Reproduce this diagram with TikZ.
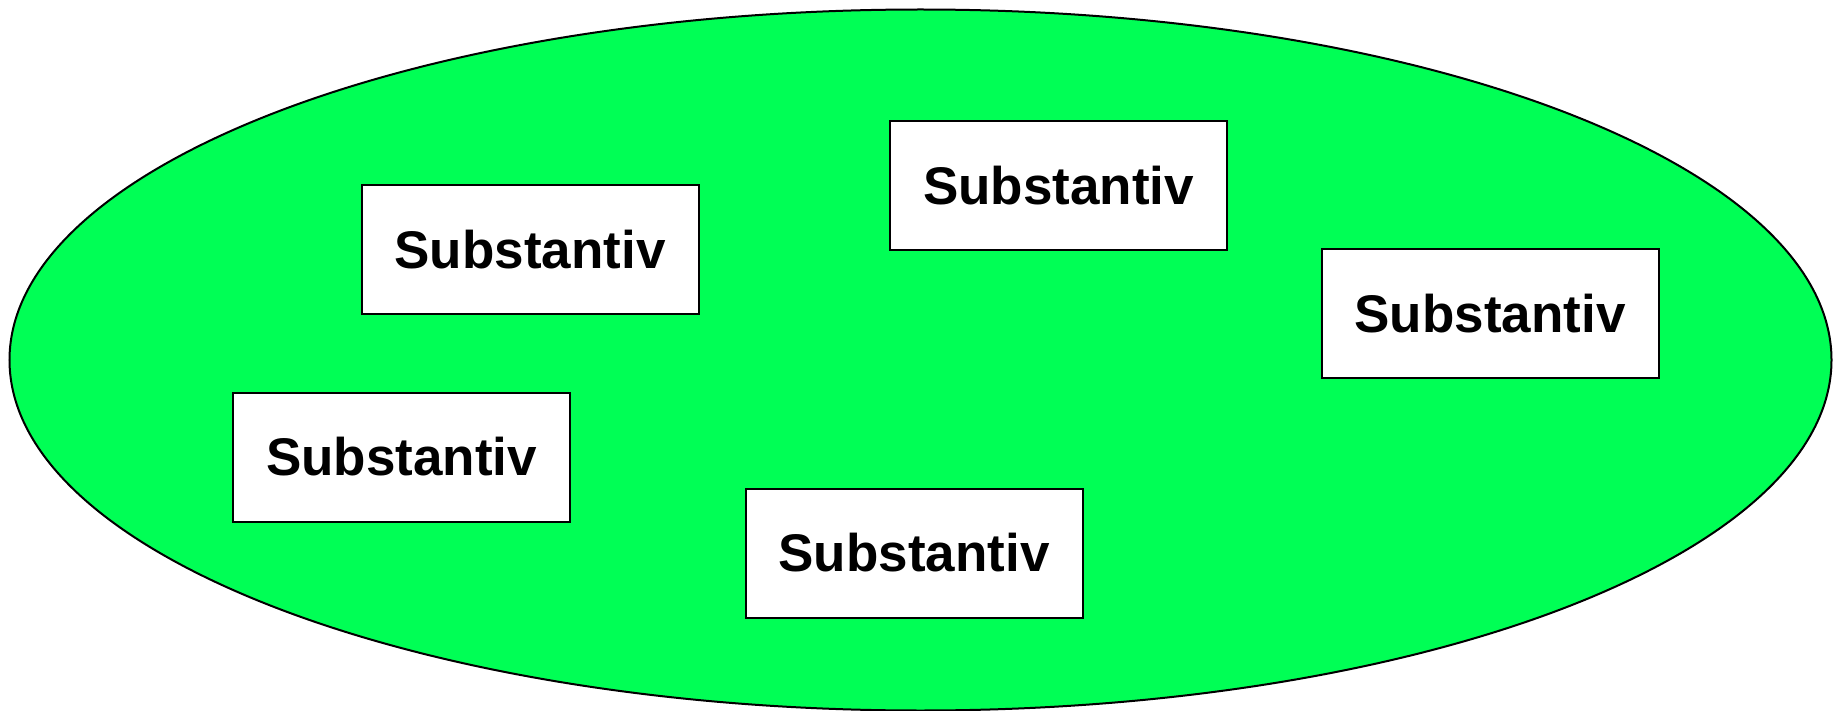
\documentclass[tikz,border=0pt]{standalone}
\usepackage{fontspec}
\setmainfont{Liberation Sans}
\definecolor{feldgruen}{RGB}{0,255,85}
\tikzset{
  wort/.style={draw=black, line width=2pt, fill=white, minimum width=337pt,
    minimum height=129pt, inner sep=0pt,
    font=\fontsize{53}{60}\selectfont\bfseries},
}
\begin{document}
\begin{tikzpicture}[x=1pt,y=-1pt]
  \useasboundingbox (0,0) rectangle (1839,711);
  \begin{scope}
    \draw[line width=2pt, fill=feldgruen] (920.5,360) ellipse [x radius=911, y radius=350.5];

    \node[wort] (s1) at (530,249.5) {Substantiv};
    \node[wort] (s2) at (1058.5,185.5) {Substantiv};
    \node[wort] (s3) at (1490,313.5) {Substantiv};
    \node[wort] (s4) at (401.5,457) {Substantiv};
    \node[wort] (s5) at (914,553) {Substantiv};
  \end{scope}
\end{tikzpicture}
\end{document}
